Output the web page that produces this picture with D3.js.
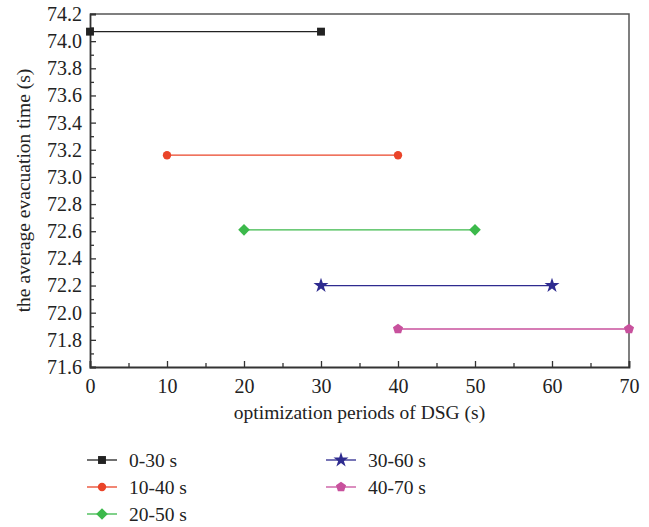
<!DOCTYPE html>
<html>
<head>
<meta charset="utf-8">
<script src="https://cdn.jsdelivr.net/npm/d3@7.9.0/dist/d3.min.js"></script>
</head>
<body style="margin:0;background:#fff">
<svg width="649" height="527"></svg>
<script>
// data
const seriesNames = ['0-30 s', '10-40 s', '20-50 s', '30-60 s', '40-70 s'];
const startPeriods = [0, 10, 20, 30, 40];
const endPeriods = [30, 40, 50, 60, 70];
const avgTimes = [74.07, 73.16, 72.61, 72.20, 71.88];
const colors = ['#222222', '#ea4429', '#3cb94b', '#2e2b8f', '#c8519d'];
const symbols = ['square', 'circle', 'diamond', 'star', 'pentagon'];
const xTicks = [0, 10, 20, 30, 40, 50, 60, 70];
const yTicks = d3.range(71.6, 74.21, 0.2);

const svg = d3.select('svg');
const serif = "'Liberation Serif'";

const x = d3.scaleLinear().domain([0, 70]).range([90, 629]);
const y = d3.scaleLinear().domain([71.6, 74.2]).range([367, 14]);

const axisColor = '#333';

// frame (top + right)
svg.append('path')
    .attr('d', `M${x(0)},${y(74.2)}H${x(70)}V${y(71.6)}`)
    .attr('fill', 'none').attr('stroke', '#555').attr('stroke-width', 1.5);

// bottom axis, ticks inward
svg.append('g').attr('transform', `translate(0,${y(71.6)})`)
    .call(d3.axisBottom(x).tickValues(xTicks).tickSize(-6).tickPadding(12).tickFormat(d3.format('d')));
svg.append('g').attr('transform', `translate(0,${y(71.6)})`)
    .call(d3.axisBottom(x).tickValues(d3.range(5, 70, 10)).tickSize(-4).tickFormat(''))
    .call(g => g.select('.domain').remove());

// left axis, ticks inward
svg.append('g').attr('transform', `translate(${x(0)},0)`)
    .call(d3.axisLeft(y).tickValues(yTicks).tickSize(-6).tickPadding(8).tickFormat(d3.format('.1f')));
svg.append('g').attr('transform', `translate(${x(0)},0)`)
    .call(d3.axisLeft(y).tickValues(d3.range(71.7, 74.2, 0.2)).tickSize(-4).tickFormat(''))
    .call(g => g.select('.domain').remove());

svg.selectAll('.tick text').attr('font-size', 20).style('font-family', serif).attr('fill', '#222');
svg.selectAll('.domain').attr('stroke', axisColor).attr('stroke-width', 1.8);
svg.selectAll('.tick line').attr('stroke', axisColor).attr('stroke-width', 1.3);

// axis titles
svg.append('text')
    .attr('x', (x(0) + x(70)) / 2).attr('y', 419)
    .attr('text-anchor', 'middle').attr('font-size', 19.5).style('font-family', serif).attr('fill', '#222')
    .text('optimization periods of DSG (s)');
svg.append('text')
    .attr('transform', `translate(30,${(y(71.6) + y(74.2)) / 2}) rotate(-90)`)
    .attr('text-anchor', 'middle').attr('font-size', 19.5).style('font-family', serif).attr('fill', '#222')
    .text('the average evacuation time (s)');

function polygon(n, r, rot) {
  const pts = d3.range(n).map(i => {
    const a = rot + i * 2 * Math.PI / n;
    return [r * Math.cos(a), r * Math.sin(a)];
  });
  return 'M' + pts.map(p => p.join(',')).join('L') + 'Z';
}
function markerPath(sym) {
  switch (sym) {
    case 'square': return polygon(4, 5.6, Math.PI / 4);
    case 'circle': return d3.symbol().type(d3.symbolCircle).size(55)();
    case 'diamond': return polygon(4, 5.8, 0);
    case 'star': return d3.symbol().type(d3.symbolStar).size(70)();
    default: return polygon(5, 5.3, -Math.PI / 2);
  }
}

// segments
seriesNames.forEach((name, i) => {
  const g = svg.append('g');
  g.append('line')
      .attr('x1', x(startPeriods[i])).attr('x2', x(endPeriods[i]))
      .attr('y1', y(avgTimes[i])).attr('y2', y(avgTimes[i]))
      .attr('stroke', colors[i]).attr('stroke-width', 1.3);
  [startPeriods[i], endPeriods[i]].forEach(px => {
    g.append('path')
        .attr('d', markerPath(symbols[i]))
        .attr('transform', `translate(${x(px)},${y(avgTimes[i])})`)
        .attr('fill', colors[i]);
  });
});

// legend
const legendPos = [[87, 460], [87, 487], [87, 514], [326, 460], [326, 487]];
seriesNames.forEach((name, i) => {
  const [lx, ly] = legendPos[i];
  const g = svg.append('g').attr('transform', `translate(${lx},${ly})`);
  g.append('line').attr('x1', 0).attr('x2', 30).attr('y1', 0).attr('y2', 0)
      .attr('stroke', colors[i]).attr('stroke-width', 1.3);
  g.append('path').attr('d', markerPath(symbols[i]))
      .attr('transform', 'translate(15,0)').attr('fill', colors[i]);
  g.append('text').attr('x', 42).attr('y', 0).attr('dy', '0.35em')
      .attr('font-size', 19.5).style('font-family', serif).attr('fill', '#222').text(name);
});
</script>
</body>
</html>
